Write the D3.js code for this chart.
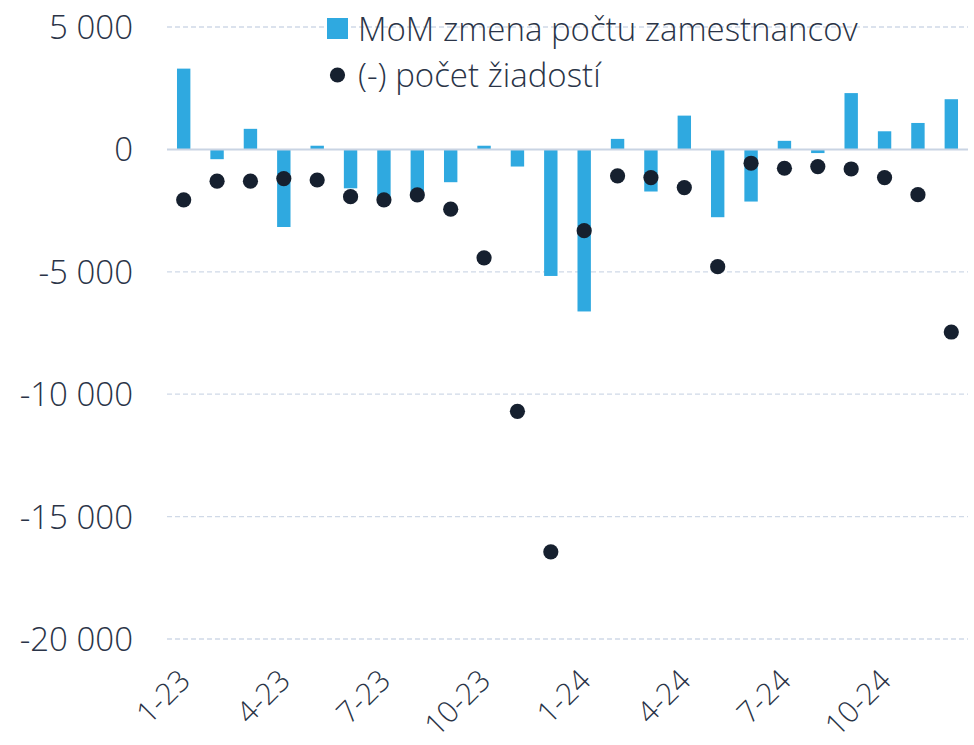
<!DOCTYPE html>
<html><head><meta charset="utf-8">
<script src="https://cdn.jsdelivr.net/npm/d3@7"></script>
<style>body{margin:0;background:#fff}svg{display:block}</style>
</head><body>
<svg id="c" width="974" height="745"></svg>
<script>
const categories = ["1-23","2-23","3-23","4-23","5-23","6-23","7-23","8-23","9-23","10-23","11-23","12-23",
  "1-24","2-24","3-24","4-24","5-24","6-24","7-24","8-24","9-24","10-24","11-24","12-24"];
const momChange = [3300,-400,840,-3170,150,-1590,-1950,-1750,-1340,150,-700,-5170,
  -6620,430,-1720,1380,-2770,-2130,350,-150,2300,740,1080,2050];
const applications = [-2060,-1300,-1300,-1190,-1250,-1930,-2060,-1860,-2440,-4430,-10700,-16440,
  -3320,-1080,-1150,-1560,-4790,-565,-770,-700,-800,-1150,-1850,-7460];
const yTicks = [5000,0,-5000,-10000,-15000,-20000];
const xTickLabels = ["1-23","4-23","7-23","10-23","1-24","4-24","7-24","10-24"];
const seriesNames = ["MoM zmena počtu zamestnancov","(-) počet žiadostí"];

const svg = d3.select("#c");
const font = "'Open Sans', sans-serif";
const textColor = "#2a3447";
const xc = d3.scaleBand().domain(categories).range([167, 968]);
const y = d3.scaleLinear().domain([-20000, 5000]).range([639, 27]);
const fmt = v => d3.format(",")(v).replace(/,/g, " ").replace("−","-");

// gridlines
svg.append("g").selectAll("line").data(yTicks.filter(d => d !== 0)).join("line")
  .attr("x1", 167).attr("x2", 968).attr("y1", d => y(d)).attr("y2", d => y(d))
  .attr("stroke", "#d0d9e7").attr("stroke-width", 1.3).attr("stroke-dasharray", "5,3");

// y labels
const yAxis = d3.axisLeft(y).tickValues(yTicks).tickSize(0).tickPadding(0).tickFormat(fmt);
const ya = svg.append("g").attr("transform", "translate(133,0)").call(yAxis);
ya.select(".domain").remove();
ya.selectAll("text").attr("font-family", font).attr("font-size", 33).attr("font-weight", 300)
  .attr("fill", textColor).attr("dy", "0.35em");

// bars
svg.append("g").selectAll("rect").data(momChange).join("rect")
  .attr("x", (d, i) => xc(categories[i]) + xc.bandwidth() / 2 - 6.7)
  .attr("width", 13.4)
  .attr("y", d => y(Math.max(0, d)))
  .attr("height", d => Math.abs(y(d) - y(0)))
  .attr("fill", "#2fa9e0");

// zero line
svg.append("line").attr("x1", 167).attr("x2", 968).attr("y1", y(0)).attr("y2", y(0))
  .attr("stroke", "#c9d4e3").attr("stroke-width", 2);

// dots
svg.append("g").selectAll("circle").data(applications).join("circle")
  .attr("cx", (d, i) => xc(categories[i]) + xc.bandwidth() / 2)
  .attr("cy", d => y(d)).attr("r", 7.6).attr("fill", "#16202f");

// x labels
const xAxis = d3.axisBottom(xc).tickValues(xTickLabels).tickSize(0).tickPadding(0);
const xa = svg.append("g").attr("transform", "translate(0,675)").call(xAxis);
xa.select(".domain").remove();
xa.selectAll("text").attr("font-family", font).attr("font-size", 30).attr("font-weight", 300)
  .attr("fill", textColor).attr("text-anchor", "end").attr("dy", "0.35em")
  .attr("transform", "translate(1,0) rotate(-45)");

// legend
const lg = svg.append("g");
lg.append("rect").attr("x", 327).attr("y", 18).attr("width", 21).attr("height", 21).attr("fill", "#2fa9e0");
lg.append("circle").attr("cx", 337.5).attr("cy", 75).attr("r", 7.6).attr("fill", "#16202f");
lg.selectAll("text").data(seriesNames).join("text")
  .attr("x", 358).attr("y", (d, i) => 29 + i * 46).attr("dy", "0.35em")
  .attr("font-family", font).attr("font-size", 33).attr("font-weight", 300).attr("fill", textColor)
  .text(d => d);
</script>
</body></html>
